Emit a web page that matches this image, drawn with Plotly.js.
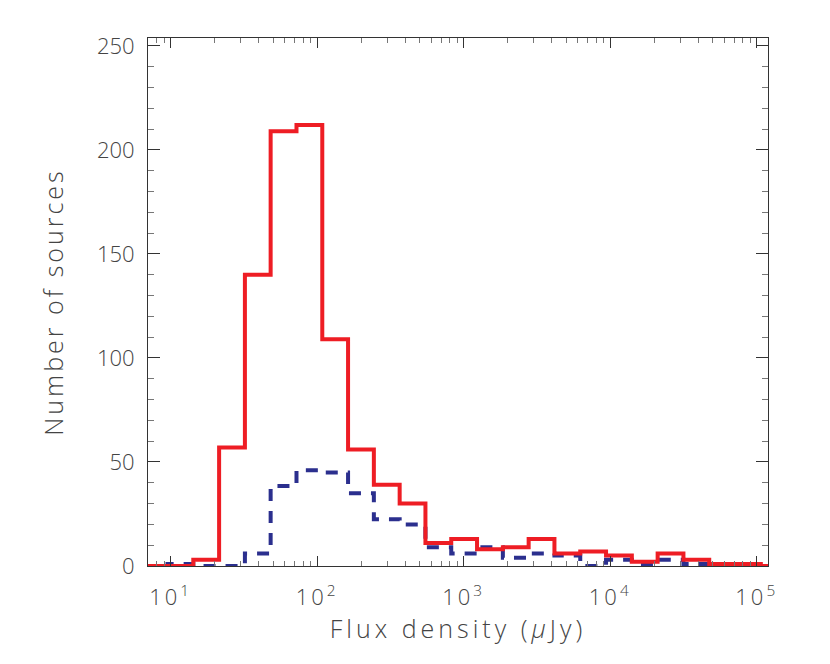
<!DOCTYPE html>
<html>
<head>
<meta charset="utf-8">
<script src="https://cdn.plot.ly/plotly-3.0.1.min.js"></script>
<style>
  body { margin: 0; background: #fff; }
  #hist { width: 830px; height: 664px; }
  #hist .ytitle { letter-spacing: 3px; }
  #hist .xtitle { letter-spacing: 4px; }
  #hist .xtick text { letter-spacing: 3px; }
</style>
</head>
<body>
<div id="hist"></div>
<script>
// bin edges in uJy (factor ~1.5 per bin)
var binEdges = [6.34, 9.51, 14.26, 21.4, 32.1, 48.1, 72.2, 108.3, 162.4, 243.6,
	365.4, 548, 822, 1233, 1850, 2775, 4162, 6243, 9365, 14047,
	21071, 31606, 47409, 71114, 106671, 160000];

// counts per bin
var allCounts = [0, 0, 3, 57, 140, 209, 212, 109, 56, 39,
	30, 11, 13, 8, 9, 13, 6, 7, 5, 2,
	6, 3, 1, 1, 0];
var subCounts = [0, 1, 0, 0, 6, 38.5, 46, 45, 35, 22.5,
	20, 9, 6, 9, 4, 6, 5, 0, 3, 1,
	3, 1, 1, 1, 0];

var xTickVals = [10, 100, 1000, 10000, 100000];
var xTickText = ["10<sup>1</sup>", "10<sup>2</sup>", "10<sup>3</sup>", "10<sup>4</sup>", "10<sup>5</sup>"];
var yTickVals = [0, 50, 100, 150, 200, 250];

// minor log ticks 2..9 of each decade
var xMinor = [];
for (var d = 0; d <= 5; d++) {
	for (var m = 2; m <= 9; m++) {
		xMinor.push(m * Math.pow(10, d));
	}
}

// step arrays: last value repeated so 'hv' closes the last bin
function stepY(counts) {
	var y = counts.slice();
	y.push(counts[counts.length - 1]);
	return y;
}

var plot_all = {
	mode: "lines",
	x: binEdges,
	y: stepY(allCounts),
	name: "All",
	line: {
		shape: "hv",
		color: "#EE1D24",
		width: 4
	}
};

var plot_sub = {
	mode: "lines",
	x: binEdges,
	y: stepY(subCounts),
	name: "Subset",
	line: {
		shape: "hv",
		color: "#2B2F8E",
		width: 4,
		dash: "12px,10px"
	}
};

var fam = "Open Sans, DejaVu Sans, sans-serif";
var tickFont = { family: fam, size: 22, color: "#444", weight: 300 };
var titleFont = { family: fam, size: 25, color: "#444", weight: 300 };

var layout = {
	width: 830,
	height: 664,
	paper_bgcolor: "#fff",
	plot_bgcolor: "#fff",
	showlegend: false,
	margin: { l: 148, r: 62, t: 38, b: 98 },
	xaxis: {
		type: "log",
		range: [0.845, 5.077],
		showgrid: false,
		zeroline: false,
		showline: true,
		linecolor: "#333",
		linewidth: 1,
		mirror: "allticks",
		ticks: "inside",
		ticklen: 10,
		tickwidth: 1,
		tickcolor: "#333",
		tickmode: "array",
		tickvals: xTickVals,
		ticktext: xTickText,
		tickfont: tickFont,
		ticklabelstandoff: 12,
		minor: {
			tickmode: "array",
			tickvals: xMinor,
			ticks: "inside",
			ticklen: 5,
			tickcolor: "#777",
			showgrid: false
		},
		title: {
			text: "Flux density (<i>μ</i>Jy)",
			font: titleFont,
			standoff: 10
		}
	},
	yaxis: {
		range: [0, 253.8],
		showgrid: false,
		zeroline: false,
		showline: true,
		linecolor: "#333",
		linewidth: 1,
		mirror: "allticks",
		ticks: "inside",
		ticklen: 12,
		tickwidth: 1,
		tickcolor: "#333",
		tickmode: "array",
		tickvals: yTickVals,
		tickfont: tickFont,
		ticklabelstandoff: 8,
		minor: {
			dtick: 10,
			ticks: "inside",
			ticklen: 6,
			tickcolor: "#777",
			showgrid: false
		},
		title: {
			text: "Number of sources",
			font: titleFont,
			standoff: 26
		}
	}
};

Plotly.newPlot("hist", [plot_sub, plot_all], layout, { displayModeBar: false, staticPlot: true });
</script>
</body>
</html>
